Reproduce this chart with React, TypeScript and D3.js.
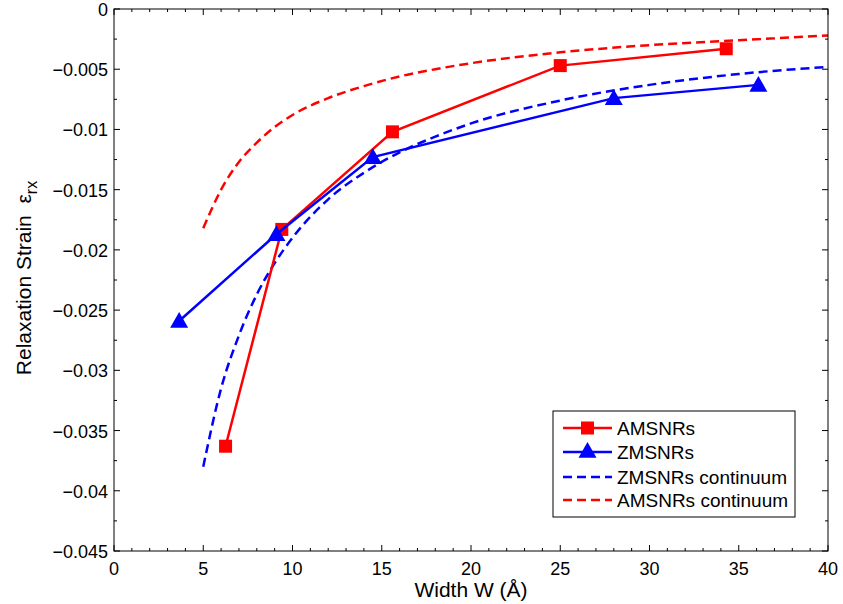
import React from "react";
import { scaleLinear, line, curveMonotoneX, range } from "d3";

// measured points
const amsnrW = [6.25, 9.4, 15.6, 25.0, 34.3];
const amsnrStrain = [-0.0363, -0.0183, -0.0102, -0.0047, -0.0033];
const zmsnrW = [3.65, 9.1, 14.5, 28.0, 36.1];
const zmsnrStrain = [-0.0259, -0.0187, -0.0123, -0.0074, -0.0063];

// continuum curves
const contW = [5, 6, 7, 8, 9, 10, 12, 14, 16, 18, 20, 25, 30, 35, 40];
const zContStrain = [-0.038, -0.0315, -0.0271, -0.0237, -0.0211, -0.019, -0.0158, -0.0136, -0.0119, -0.0106, -0.0095, -0.0076, -0.0063, -0.0054, -0.0048];
const aContStrain = [-0.0182, -0.015, -0.0127, -0.0111, -0.0098, -0.0088, -0.0074, -0.0064, -0.0056, -0.005, -0.0045, -0.0036, -0.003, -0.0026, -0.0022];

const xTicks = [0, 5, 10, 15, 20, 25, 30, 35, 40];
const yTicks = [0, -0.005, -0.01, -0.015, -0.02, -0.025, -0.03, -0.035, -0.04, -0.045];
const yTickLabels = ["0", "−0.005", "−0.01", "−0.015", "−0.02", "−0.025", "−0.03", "−0.035", "−0.04", "−0.045"];

const legendNames = ["AMSNRs", "ZMSNRs", "ZMSNRs continuum", "AMSNRs continuum"];

const RED = "#ff0000";
const BLUE = "#0000ff";
const FONT = "'Liberation Sans', Arial, Helvetica, sans-serif";

export default function App() {
  const left = 114, right = 828, top = 9, bottom = 551;
  const x = scaleLinear().domain([0, 40]).range([left, right]);
  const y = scaleLinear().domain([-0.045, 0]).range([bottom, top]);

  const pts = (xs: number[], ys: number[]) => xs.map((v, i) => [v, ys[i]] as [number, number]);
  const straight = line<[number, number]>().x((d) => x(d[0])).y((d) => y(d[1]));
  const smooth = line<[number, number]>().x((d) => x(d[0])).y((d) => y(d[1])).curve(curveMonotoneX);

  const minorX = range(0, 41, 1).filter((v) => v % 5 !== 0);
  const minorY = range(0, 9).map((i) => -0.0025 - i * 0.005);

  const tri = (cx: number, cy: number, s = 9) =>
    `M${cx},${cy - s}L${cx + s},${cy + s * 0.75}L${cx - s},${cy + s * 0.75}Z`;

  const legX = 553, legY = 411, legW = 242, legH = 106;
  const rowY = [428, 452, 477, 500];

  return (
    <svg width={843} height={604} style={{ display: "block", position: "absolute", left: 0, top: 0, background: "#fff" }} fontFamily={FONT}>
      <rect x={0} y={0} width={843} height={604} fill="#fff" />
      {/* continuum curves */}
      <path d={smooth(pts(contW, zContStrain)) || ""} fill="none" stroke={BLUE} strokeWidth={2.5} strokeDasharray="9,5" />
      <path d={smooth(pts(contW, aContStrain)) || ""} fill="none" stroke={RED} strokeWidth={2.5} strokeDasharray="9,5" />
      {/* data lines */}
      <path d={straight(pts(amsnrW, amsnrStrain)) || ""} fill="none" stroke={RED} strokeWidth={2.5} />
      {amsnrW.map((w, i) => (
        <rect key={"a" + i} x={x(w) - 6.5} y={y(amsnrStrain[i]) - 6.5} width={13} height={13} fill={RED} />
      ))}
      <path d={straight(pts(zmsnrW, zmsnrStrain)) || ""} fill="none" stroke={BLUE} strokeWidth={2.5} />
      {zmsnrW.map((w, i) => (
        <path key={"z" + i} d={tri(x(w), y(zmsnrStrain[i]))} fill={BLUE} />
      ))}

      {/* axes box */}
      <rect x={left} y={top} width={right - left} height={bottom - top} fill="none" stroke="#000" strokeWidth={1} />
      {xTicks.map((t) => (
        <g key={"xt" + t}>
          <line x1={x(t)} x2={x(t)} y1={bottom} y2={bottom - 6} stroke="#000" />
          <line x1={x(t)} x2={x(t)} y1={top} y2={top + 6} stroke="#000" />
          <text x={x(t)} y={bottom + 24} fontSize={18} textAnchor="middle">{t}</text>
        </g>
      ))}
      {minorX.map((t) => (
        <g key={"xm" + t}>
          <line x1={x(t)} x2={x(t)} y1={bottom} y2={bottom - 3} stroke="#000" />
          <line x1={x(t)} x2={x(t)} y1={top} y2={top + 3} stroke="#000" />
        </g>
      ))}
      {yTicks.map((t, i) => (
        <g key={"yt" + i}>
          <line x1={left} x2={left + 6} y1={y(t)} y2={y(t)} stroke="#000" />
          <line x1={right} x2={right - 6} y1={y(t)} y2={y(t)} stroke="#000" />
          <text x={left - 6} y={y(t) + 7} fontSize={18} textAnchor="end">{yTickLabels[i]}</text>
        </g>
      ))}
      {minorY.map((t, i) => (
        <g key={"ym" + i}>
          <line x1={left} x2={left + 3} y1={y(t)} y2={y(t)} stroke="#000" />
          <line x1={right} x2={right - 3} y1={y(t)} y2={y(t)} stroke="#000" />
        </g>
      ))}

      {/* axis labels */}
      <text x={(left + right) / 2} y={597} fontSize={21} textAnchor="middle">Width W (Å)</text>
      <text transform="translate(31,278) rotate(-90)" fontSize={21} textAnchor="middle">
        Relaxation Strain{"\u00a0\u00a0"}ε<tspan fontSize={16} dy={6}>rx</tspan>
      </text>

      {/* legend */}
      <rect x={legX} y={legY} width={legW} height={legH} fill="#fff" stroke="#000" strokeWidth={1} />
      {legendNames.map((name, i) => {
        const cy = rowY[i];
        const col = i === 0 || i === 3 ? RED : BLUE;
        const dashed = i >= 2;
        return (
          <g key={name}>
            <line x1={563} x2={612} y1={cy} y2={cy} stroke={col} strokeWidth={2.5} strokeDasharray={dashed ? "9,5" : undefined} />
            {i === 0 && <rect x={581} y={cy - 6.5} width={13} height={13} fill={RED} />}
            {i === 1 && <path d={tri(587.5, cy - 1)} fill={BLUE} />}
            <text x={617} y={cy + 7} fontSize={19}>{name}</text>
          </g>
        );
      })}
    </svg>
  );
}
